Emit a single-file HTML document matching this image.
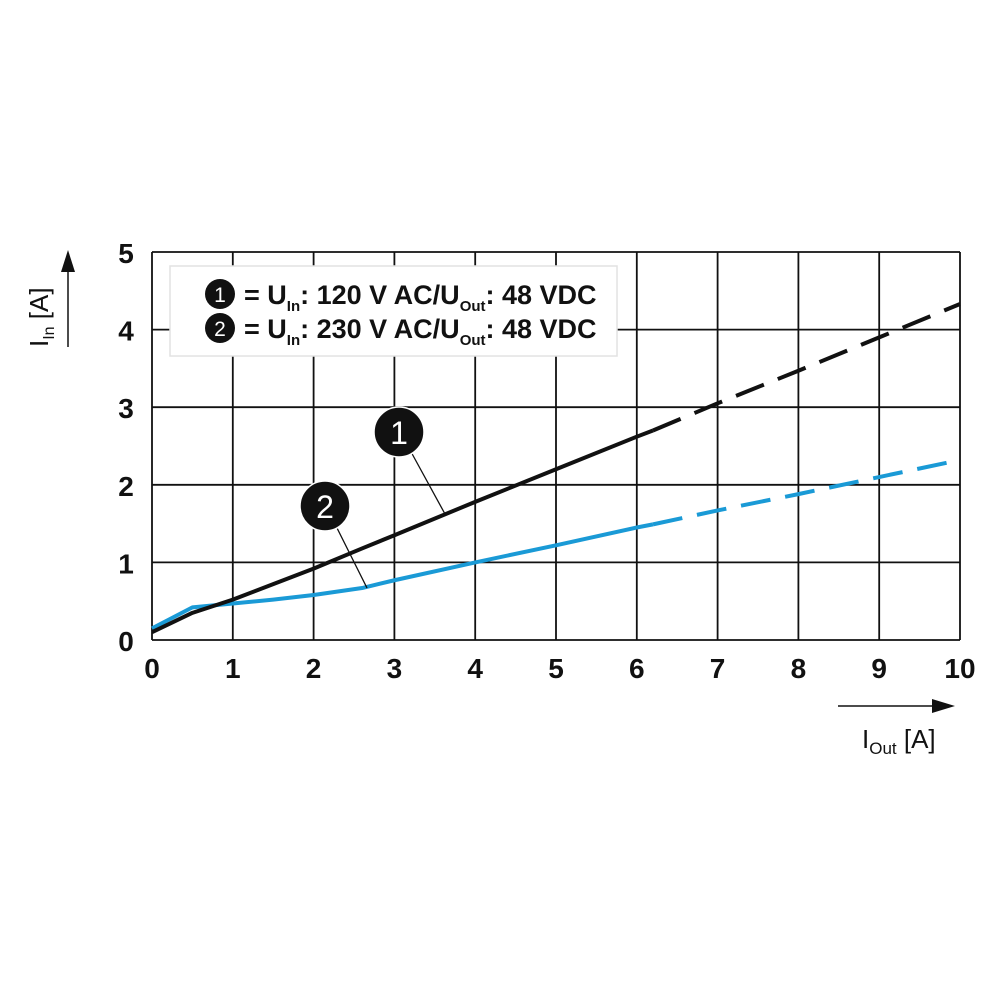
<!DOCTYPE html>
<html><head><meta charset="utf-8"><style>
body{margin:0;background:#fff;}
svg text{font-family:"Liberation Sans",Arial,sans-serif;}
</style></head><body>
<svg id="chart" width="1000" height="1000" viewBox="0 0 1000 1000" xmlns="http://www.w3.org/2000/svg">
<g id="grid"></g>
<g id="ticks"></g>
<g id="series"></g>
<g>
<rect x="170" y="266" width="447" height="90" fill="#fff" stroke="#e2e2e2" stroke-width="1.5"/>
<circle cx="220" cy="294" r="15" fill="#111"/><text x="220" y="302" font-size="21" fill="#fff" text-anchor="middle">1</text>
<text x="244" y="304" font-size="27" font-weight="bold" fill="#111">= U<tspan font-size="15" dy="7">In</tspan><tspan dy="-7">: 120 V AC/U</tspan><tspan font-size="15" dy="7">Out</tspan><tspan dy="-7">: 48 VDC</tspan></text>
<circle cx="220" cy="328" r="15" fill="#111"/><text x="220" y="336" font-size="21" fill="#fff" text-anchor="middle">2</text>
<text x="244" y="338" font-size="27" font-weight="bold" fill="#111">= U<tspan font-size="15" dy="7">In</tspan><tspan dy="-7">: 230 V AC/U</tspan><tspan font-size="15" dy="7">Out</tspan><tspan dy="-7">: 48 VDC</tspan></text>
</g>
<g>
<line x1="410" y1="450" x2="445" y2="514" stroke="#111" stroke-width="1.3"/>
<circle cx="399" cy="432" r="25" fill="#111" stroke="#fff" stroke-width="1.5"/><text x="399" y="444" font-size="32" fill="#fff" text-anchor="middle">1</text>
<line x1="335" y1="524" x2="367" y2="588" stroke="#111" stroke-width="1.3"/>
<circle cx="325" cy="506" r="25" fill="#111" stroke="#fff" stroke-width="1.5"/><text x="325" y="518" font-size="32" fill="#fff" text-anchor="middle">2</text>
</g>
<g>
<text transform="translate(48,347) rotate(-90)" font-size="26" fill="#111">I<tspan font-size="16" dy="6">In</tspan><tspan dy="-6"> [A]</tspan></text>
<line x1="68" y1="347" x2="68" y2="268" stroke="#111" stroke-width="1.5"/>
<polygon points="68,250 61,272 75,272" fill="#111"/>
</g>
<g>
<line x1="838" y1="706" x2="935" y2="706" stroke="#111" stroke-width="1.5"/>
<polygon points="955,706 932,699 932,713" fill="#111"/>
<text x="862" y="748" font-size="26" fill="#111">I<tspan font-size="17" dy="6">Out</tspan><tspan dy="-6"> [A]</tspan></text>
</g>
</svg>
<script>
const xTicks=[0,1,2,3,4,5,6,7,8,9,10];
const yTicks=[0,1,2,3,4,5];
const xVals=[0,0.5,1,1.5,2,2.6,3,4,5,6,6.2,7,8,9,10];
const series1=[0.1,0.35,0.52,0.72,0.92,1.18,1.35,1.78,2.2,2.62,2.7,3.05,3.47,3.9,4.33];
const series2=[0.15,0.42,0.47,0.52,0.58,0.67,0.77,1.0,1.22,1.45,1.49,1.67,1.88,2.1,2.32];
const solidUntil=6.2;
const X=v=>152+v*80.8, Y=v=>640-v*77.6;
const NS='http://www.w3.org/2000/svg';
const g=document.getElementById('grid'),t=document.getElementById('ticks'),s=document.getElementById('series');
function mk(tag,attrs,parent){const e=document.createElementNS(NS,tag);for(const k in attrs)e.setAttribute(k,attrs[k]);parent.appendChild(e);return e;}
xTicks.forEach(v=>{const l=mk('line',{x1:X(v),x2:X(v),y1:Y(5),y2:Y(0),stroke:'#111','stroke-width':1.8},g);


const tx=mk('text',{x:X(v),y:678,'font-size':28,'font-weight':'bold','text-anchor':'middle',fill:'#111'},t);tx.textContent=v;

});
yTicks.forEach(v=>{const l=mk('line',{x1:X(0),x2:X(10),y1:Y(v),y2:Y(v),stroke:'#111','stroke-width':1.8},g);


const tx=mk('text',{x:126,y:Y(v)+11,'font-size':28,'font-weight':'bold','text-anchor':'middle',fill:'#111'},t);tx.textContent=v;

});
function draw(vals,color,name){
 const solid=[],dash=[];
 xVals.forEach((x,i)=>{const p=X(x)+','+Y(vals[i]);if(x<=solidUntil)solid.push(p);if(x>=solidUntil)dash.push(p);});
 const a=mk('polyline',{points:solid.join(' '),fill:'none',stroke:color,'stroke-width':4,'stroke-linejoin':'round'},s);
 
 
 const b=mk('polyline',{points:dash.join(' '),fill:'none',stroke:color,'stroke-width':4,'stroke-dasharray':'30 15'},s);
 
 
}
draw(series2,'#1a9ad6','series-230v');
draw(series1,'#111','series-120v');
</script>
</body></html>
